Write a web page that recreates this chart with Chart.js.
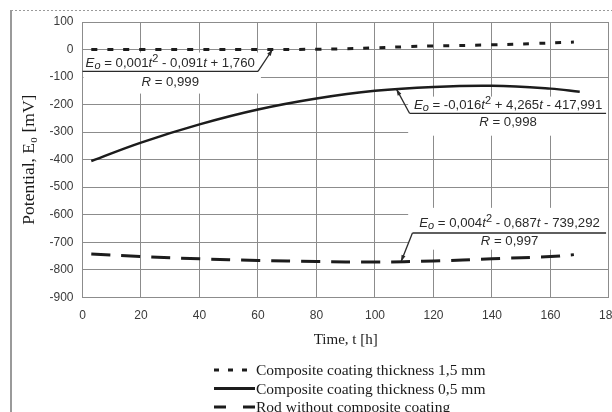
<!DOCTYPE html>
<html>
<head>
<meta charset="utf-8">
<title>Potential vs time</title>
<script src="https://cdn.jsdelivr.net/npm/chart.js@4.4.1/dist/chart.umd.min.js"></script>
<style>
  html, body { margin: 0; padding: 0; background: #ffffff; overflow: hidden; }
  #wrap { width: 630px; height: 412px; }
</style>
</head>
<body>
<div id="wrap"><canvas id="chart" width="630" height="412"></canvas></div>
<script>
// ----------------------------------------
// Data
// ----------------------------------------
const timeCoat15 = [3, 20, 40, 60, 80, 90, 100, 110, 120, 140, 155, 168];
const potentialCoat15 = [0, 0, 0, 0, 1, 3, 6, 10, 13, 17, 22, 27];

const timeCoat05 = [3, 20, 40, 60, 80, 100, 120, 140, 160, 170];
const potentialCoat05 = [-405, -338, -272, -218, -178, -150, -136, -132, -142, -153];

const timeRod = [3, 20, 40, 60, 80, 100, 120, 140, 160, 168];
const potentialRod = [-743, -752, -760, -766, -770, -772, -768, -760, -752, -745];

const seriesLabels = [
  'Composite coating thickness 1,5 mm',
  'Composite coating thickness 0,5 mm',
  'Rod without composite coating'
];

const xTicks = { min: 0, max: 180, step: 20 };
const yTicks = { min: -900, max: 100, step: 100 };

// Fitted equations written on the plot
const equationTerms = [
  ['0,001', '0,091', '+ 1,760', '- ', 'R = 0,999'],
  ['-0,016', '4,265', '- 417,991', '+ ', 'R = 0,998'],
  ['0,004', '0,687', '- 739,292', '- ', 'R = 0,997']
];

// ----------------------------------------
// Styles
// ----------------------------------------
const ink = '#1c1c1c';
const gridColor = '#8c8c8c';
const sansFont = '"Liberation Sans", Arial, sans-serif';
const serifFont = '"Liberation Serif", "Times New Roman", serif';

// where each equation label sits, in axis units (t, E)
const labelPlacement = [
  { box: [0, 61, -11, -160], rule: [0, 60, -79], tip: [65, 1], textT: 30, eqE: -51, rE: -120 },
  { box: [111, 180, -171, -313], rule: [111.8, 179, -231.6], tip: [107.3, -143], textT: 145.5, eqE: -203, rE: -264 },
  { box: [111, 180, -575, -727], rule: [112.8, 179, -666.5], tip: [108.9, -771], textT: 146, eqE: -632, rE: -697 }
];

const legendDash = [[5, 9], [], [12, 17]];

function toPoints(xs, ys) {
  return xs.map((x, i) => ({ x: x, y: ys[i] }));
}

// Text with italic letters, sub- and superscripts (slightly stretched like the scan)
function drawRich(ctx, parts, cx, cy, size, stretch) {
  const fontOf = p => (p.it ? 'italic ' : '') + ((p.sub || p.sup) ? Math.round(size * 0.8) : size) + 'px ' + sansFont;
  let total = 0;
  parts.forEach(p => { ctx.font = fontOf(p); p.w = ctx.measureText(p.s).width; total += p.w; });
  ctx.save();
  ctx.translate(cx, cy);
  ctx.scale(stretch, 1);
  let x = -total / 2;
  ctx.textAlign = 'left';
  ctx.textBaseline = 'middle';
  parts.forEach(p => {
    ctx.font = fontOf(p);
    const dy = p.sub ? 3 : (p.sup ? -4 : 0);
    ctx.fillText(p.s, x, dy);
    x += p.w;
  });
  ctx.restore();
}

function equationParts(terms) {
  return [
    { s: 'E', it: true }, { s: 'o', it: true, sub: true },
    { s: ' = ' + terms[0] }, { s: 't', it: true }, { s: '2', sup: true },
    { s: ' ' + terms[3] + terms[1] }, { s: 't', it: true },
    { s: ' ' + terms[2] }
  ];
}

// Frame round the figure
const framePlugin = {
  id: 'frame',
  beforeDraw(chart) {
    const ctx = chart.ctx;
    ctx.save();
    ctx.fillStyle = '#ffffff';
    ctx.fillRect(0, 0, chart.width, chart.height);
    ctx.strokeStyle = '#9a9a9a';
    ctx.lineWidth = 2;
    ctx.beginPath();
    ctx.moveTo(11, 10);
    ctx.lineTo(11, chart.height);
    ctx.stroke();
    ctx.lineWidth = 1;
    ctx.setLineDash([2, 2]);
    ctx.beginPath();
    ctx.moveTo(11, 10.5);
    ctx.lineTo(chart.width, 10.5);
    ctx.stroke();
    ctx.restore();
  }
};

// Equation labels with their leader arrows
const equationPlugin = {
  id: 'equations',
  beforeDatasetsDraw(chart) {
    const ctx = chart.ctx;
    const xs = chart.scales.x;
    const ys = chart.scales.y;
    ctx.save();
    labelPlacement.forEach((p, i) => {
      const terms = equationTerms[i];
      // white patch hiding the grid
      const bx0 = xs.getPixelForValue(p.box[0]);
      const bx1 = Math.min(xs.getPixelForValue(p.box[1]), chart.chartArea.right - 1);
      const by0 = ys.getPixelForValue(p.box[2]);
      const by1 = ys.getPixelForValue(p.box[3]);
      ctx.fillStyle = '#ffffff';
      ctx.fillRect(bx0 + 1, by0, bx1 - bx0 - 1, by1 - by0);

      ctx.fillStyle = '#2a2a2a';
      const cx = xs.getPixelForValue(p.textT);
      drawRich(ctx, equationParts(terms), cx, ys.getPixelForValue(p.eqE), 12, 1.1);
      drawRich(ctx, [{ s: 'R', it: true }, { s: terms[4].slice(1) }], cx, ys.getPixelForValue(p.rE), 12, 1.1);

      // underline and leader
      const rx0 = xs.getPixelForValue(p.rule[0]);
      const rx1 = xs.getPixelForValue(p.rule[1]);
      const ry = ys.getPixelForValue(p.rule[2]);
      const tx = xs.getPixelForValue(p.tip[0]);
      const ty = ys.getPixelForValue(p.tip[1]);
      ctx.strokeStyle = '#2a2a2a';
      ctx.lineWidth = 1.3;
      ctx.beginPath();
      ctx.moveTo(rx1, ry);
      ctx.lineTo(rx0, ry);
      ctx.stroke();
      const sx = i === 0 ? rx1 : rx0;
      ctx.beginPath();
      ctx.moveTo(sx, ry);
      ctx.lineTo(tx, ty);
      ctx.stroke();
      // arrow head
      const ang = Math.atan2(ty - ry, tx - sx);
      ctx.beginPath();
      ctx.moveTo(tx, ty);
      ctx.lineTo(tx - 7 * Math.cos(ang - 0.3), ty - 7 * Math.sin(ang - 0.3));
      ctx.lineTo(tx - 7 * Math.cos(ang + 0.3), ty - 7 * Math.sin(ang + 0.3));
      ctx.closePath();
      ctx.fill();
    });
    ctx.restore();
  }
};

// Legend stacked under the axis title
const legendPlugin = {
  id: 'stackedLegend',
  afterDraw(chart) {
    const ctx = chart.ctx;
    ctx.save();
    chart.data.datasets.forEach((ds, i) => {
      const y = 370 + i * 18.5;
      ctx.strokeStyle = ink;
      ctx.lineWidth = 3;
      ctx.setLineDash(legendDash[i]);
      ctx.beginPath();
      ctx.moveTo(214, y);
      ctx.lineTo(255, y);
      ctx.stroke();
      ctx.setLineDash([]);
      ctx.fillStyle = '#1a1a1a';
      ctx.font = '15.5px ' + serifFont;
      ctx.textAlign = 'left';
      ctx.textBaseline = 'middle';
      ctx.fillText(ds.label, 256, y + 1);
    });
    ctx.restore();
  }
};

const lineBase = {
  borderColor: ink,
  pointRadius: 0,
  fill: false,
  tension: 0.4,
  borderCapStyle: 'butt'
};

new Chart(document.getElementById('chart'), {
  type: 'line',
  data: {
    datasets: [
      { ...lineBase, label: seriesLabels[0], data: toPoints(timeCoat15, potentialCoat15), borderWidth: 3, borderDash: [6, 10] },
      { ...lineBase, label: seriesLabels[1], data: toPoints(timeCoat05, potentialCoat05), borderWidth: 2.5 },
      { ...lineBase, label: seriesLabels[2], data: toPoints(timeRod, potentialRod), borderWidth: 3, borderDash: [19, 11] }
    ]
  },
  options: {
    responsive: false,
    animation: false,
    devicePixelRatio: 1,
    layout: { padding: { left: 12, right: 20, top: 22, bottom: 0 } },
    plugins: {
      legend: { display: false },
      tooltip: { enabled: false }
    },
    scales: {
      x: {
        type: 'linear',
        min: xTicks.min,
        max: xTicks.max,
        ticks: {
          stepSize: xTicks.step,
          color: '#3a3a3a',
          padding: 11,
          maxRotation: 0,
          font: { family: sansFont, size: 12 }
        },
        grid: { color: gridColor, drawTicks: false },
        border: { color: gridColor },
        title: {
          display: true,
          text: 'Time, t [h]',
          color: '#1a1a1a',
          font: { family: serifFont, size: 15 },
          padding: { top: 0, bottom: 63 }
        },
        afterFit(scale) { scale.height = 114.7; }
      },
      y: {
        min: yTicks.min,
        max: yTicks.max,
        ticks: {
          stepSize: yTicks.step,
          color: '#3a3a3a',
          padding: 9,
          font: { family: sansFont, size: 12 }
        },
        grid: { color: gridColor, drawTicks: false },
        border: { color: gridColor },
        title: {
          display: true,
          text: 'Potential, E\u2080 [mV]',
          color: '#1a1a1a',
          font: { family: serifFont, size: 17.5 },
          padding: { top: 7, bottom: 0 }
        },
        afterFit(scale) { scale.width = 70.5; }
      }
    }
  },
  plugins: [framePlugin, equationPlugin, legendPlugin]
});
</script>
</body>
</html>
